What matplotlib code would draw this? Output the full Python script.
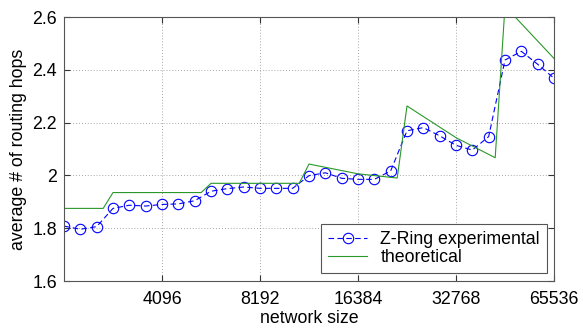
import matplotlib
matplotlib.use("Agg")
import matplotlib.pyplot as plt

plt.rcParams['font.family'] = ['Liberation Sans', 'DejaVu Sans']

# Experimental data (network size, avg hops)
exp_x = [2048, 2299, 2580, 2896, 3251, 3649,
         4096, 4598, 5161, 5793, 6502, 7298,
         8192, 9195, 10321, 11585, 13004, 14596,
         16384, 18390, 20643, 23170, 26008, 29193,
         32768, 36781, 41285, 46341, 52016, 58386,
         65536]
exp_y = [1.808, 1.796, 1.806, 1.875, 1.887, 1.884,
         1.890, 1.892, 1.904, 1.940, 1.950, 1.956,
         1.951, 1.951, 1.951, 1.999, 2.010, 1.989,
         1.985, 1.985, 2.017, 2.169, 2.181, 2.150,
         2.114, 2.096, 2.147, 2.437, 2.470, 2.421,
         2.368]

# Theoretical curve vertices
theo_x = [2048, 2702, 2896, 5405, 5793, 10809, 11585, 16384, 21619,
          23170, 32768, 43238, 46341, 65536]
theo_y = [1.875, 1.875, 1.935, 1.935, 1.970, 1.970, 2.043, 2.006, 1.990,
          2.263, 2.143, 2.067, 2.641, 2.443]

xticks = [4096, 8192, 16384, 32768, 65536]
xtick_labels = ["4096", "8192", "16384", "32768", "65536"]
yticks = [1.6, 1.8, 2.0, 2.2, 2.4, 2.6]
ytick_labels = ["1.6", "1.8", "2", "2.2", "2.4", "2.6"]

FS = 12.8

fig = plt.figure(figsize=(5.83, 3.28), dpi=100)
ax = fig.add_axes([64/583, 1-281/328, 490/583, 264/328])

ax.plot(exp_x, exp_y, linestyle=(0, (5, 3)), color='#0000ff', lw=0.8,
        marker='o', markersize=7.5, markerfacecolor='none',
        markeredgecolor='#0000ff', markeredgewidth=0.8,
        label='Z-Ring experimental')
ax.plot(theo_x, theo_y, color='#2a982a', lw=0.8, label='theoretical')

ax.set_xscale('log', base=2)
ax.set_xlim(2048, 65536)
ax.set_ylim(1.6, 2.6)
ax.set_xticks(xticks)
ax.set_xticklabels(xtick_labels)
ax.minorticks_off()
ax.set_yticks(yticks)
ax.set_yticklabels(ytick_labels)

ax.grid(True, linestyle=(0, (1, 2.5)), color='#888888', lw=0.6)
ax.tick_params(direction='in', length=4, width=0.8, top=True, right=True,
               labelsize=FS, colors='#333333', labelcolor='black', pad=5)
ax.tick_params(axis='x', pad=7)
for s in ax.spines.values():
    s.set_color('#555555')
    s.set_linewidth(0.8)

ax.set_xlabel('network size', fontsize=FS, labelpad=1.5)
ax.set_ylabel('average # of routing hops', fontsize=FS, labelpad=4)

leg = ax.legend(loc='lower right', bbox_to_anchor=(0.986, 0.03),
                borderaxespad=0, fancybox=False, framealpha=1,
                edgecolor='#555555', fontsize=FS, handlelength=2.2,
                handletextpad=0.75, borderpad=0.4, labelspacing=0.05)
leg.get_frame().set_linewidth(0.8)

fig.savefig('out.png', dpi=100)
